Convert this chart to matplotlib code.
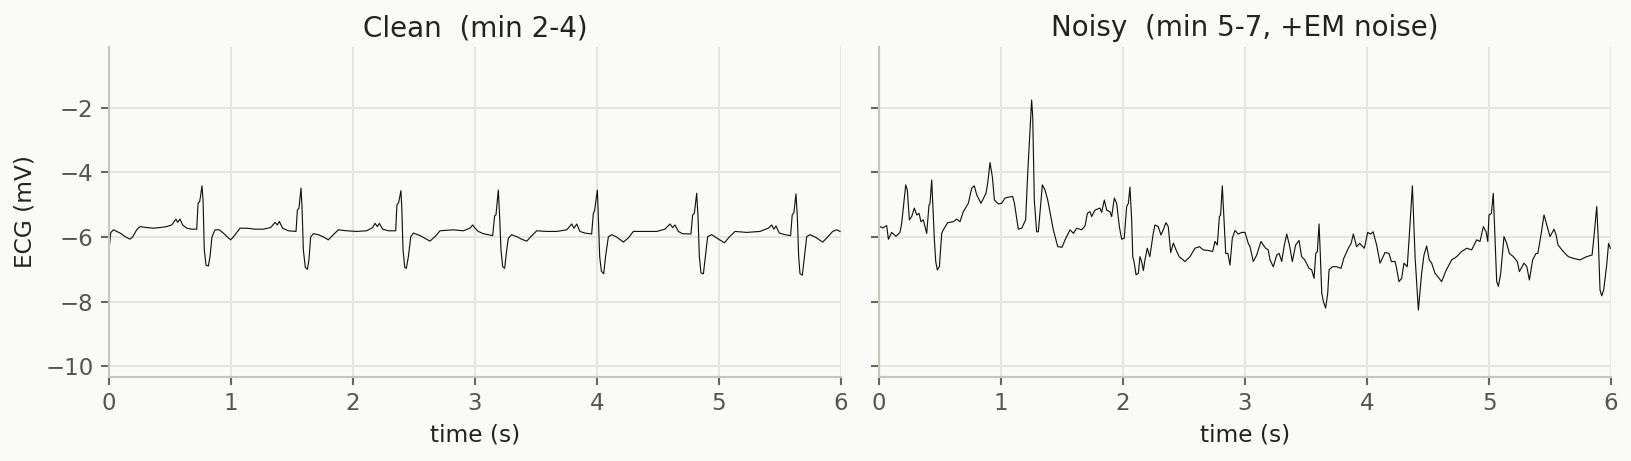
import matplotlib
matplotlib.use('Agg')
import matplotlib.pyplot as plt

# Чистый участок ЭКГ (мин 2-4): время (с) и амплитуда (мВ)
clean_t = [0.0, 0.014, 0.036, 0.063, 0.096, 0.131, 0.172, 0.194, 0.227, 0.254,
           0.309, 0.363, 0.418, 0.473, 0.514, 0.549, 0.563, 0.582, 0.604, 0.637,
           0.678, 0.719, 0.730, 0.743, 0.750, 0.762, 0.771, 0.781, 0.795, 0.814,
           0.828, 0.844, 0.869, 0.904, 0.937, 0.970, 0.997, 1.019, 1.074, 1.128,
           1.197, 1.265, 1.325, 1.361, 1.380, 1.396, 1.423, 1.470, 1.533, 1.544,
           1.557, 1.574, 1.582, 1.593, 1.609, 1.626, 1.639, 1.653, 1.675, 1.716,
           1.757, 1.798, 1.839, 1.880, 1.948, 2.030, 2.112, 2.161, 2.180, 2.200,
           2.216, 2.243, 2.290, 2.350, 2.360, 2.374, 2.393, 2.400, 2.410, 2.424,
           2.437, 2.454, 2.473, 2.495, 2.550, 2.631, 2.672, 2.713, 2.822, 2.904,
           2.959, 2.981, 3.000, 3.027, 3.068, 3.145, 3.161, 3.172, 3.191, 3.202,
           3.213, 3.227, 3.243, 3.260, 3.273, 3.300, 3.341, 3.382, 3.424, 3.456,
           3.506, 3.588, 3.670, 3.752, 3.793, 3.811, 3.834, 3.860, 3.900, 3.956,
           3.970, 3.980, 4.003, 4.010, 4.022, 4.036, 4.055, 4.070, 4.093, 4.120,
           4.160, 4.216, 4.257, 4.298, 4.380, 4.490, 4.557, 4.598, 4.620, 4.639,
           4.667, 4.700, 4.770, 4.784, 4.798, 4.817, 4.828, 4.839, 4.852, 4.872,
           4.888, 4.907, 4.940, 4.980, 5.044, 5.085, 5.131, 5.227, 5.336, 5.404,
           5.432, 5.450, 5.467, 5.494, 5.541, 5.587, 5.600, 5.614, 5.631, 5.642,
           5.653, 5.664, 5.683, 5.700, 5.719, 5.746, 5.787, 5.850, 5.883, 5.932,
           5.965, 5.992]
clean_v = [-6.40, -5.87, -5.78, -5.83, -5.89, -5.99, -6.07, -6.00, -5.78, -5.68,
           -5.71, -5.73, -5.71, -5.68, -5.63, -5.45, -5.55, -5.45, -5.63, -5.73,
           -5.76, -5.76, -4.96, -4.91, -4.75, -4.42, -4.86, -6.40, -6.87, -6.90,
           -6.61, -6.00, -5.78, -5.78, -5.88, -6.00, -6.09, -6.00, -5.73, -5.73,
           -5.76, -5.76, -5.71, -5.55, -5.63, -5.52, -5.73, -5.81, -5.83, -5.17,
           -5.11, -4.49, -5.06, -6.40, -6.94, -7.00, -6.71, -6.00, -5.90, -5.93,
           -6.00, -6.09, -5.93, -5.78, -5.81, -5.83, -5.81, -5.71, -5.58, -5.68,
           -5.58, -5.76, -5.81, -5.81, -5.01, -4.94, -4.57, -5.11, -6.40, -6.94,
           -6.97, -6.61, -6.00, -5.88, -5.96, -6.13, -5.99, -5.81, -5.78, -5.81,
           -5.73, -5.63, -5.73, -5.83, -5.90, -5.96, -5.35, -5.32, -4.55, -5.37,
           -6.40, -6.92, -6.97, -6.40, -6.04, -5.93, -5.99, -6.07, -6.13, -6.00,
           -5.81, -5.83, -5.83, -5.78, -5.60, -5.73, -5.60, -5.83, -5.88, -5.91,
           -5.27, -5.19, -4.55, -5.27, -6.61, -7.06, -7.14, -6.61, -6.00, -5.93,
           -6.00, -6.16, -6.03, -5.83, -5.83, -5.83, -5.76, -5.60, -5.71, -5.63,
           -5.83, -5.90, -5.91, -5.32, -5.27, -4.65, -5.37, -6.61, -7.11, -7.14,
           -6.61, -5.99, -5.93, -6.03, -6.18, -6.00, -5.83, -5.86, -5.83, -5.73,
           -5.63, -5.76, -5.66, -5.88, -5.93, -5.96, -5.32, -5.25, -4.67, -5.37,
           -6.61, -7.14, -7.18, -6.61, -5.99, -5.93, -6.00, -6.16, -6.03, -5.83,
           -5.78, -5.83]

# Зашумлённый участок (мин 5-7, + шум от электродов)
noisy_t = [0.008, 0.030, 0.063, 0.077, 0.104, 0.139, 0.172, 0.186, 0.219, 0.232,
           0.249, 0.268, 0.290, 0.309, 0.328, 0.344, 0.363, 0.391, 0.410, 0.418,
           0.432, 0.437, 0.454, 0.465, 0.478, 0.495, 0.514, 0.527, 0.563, 0.609,
           0.637, 0.664, 0.691, 0.732, 0.760, 0.781, 0.801, 0.836, 0.877, 0.891,
           0.910, 0.929, 0.946, 0.978, 1.005, 1.033, 1.060, 1.096, 1.110, 1.142,
           1.170, 1.202, 1.219, 1.232, 1.251, 1.260, 1.273, 1.292, 1.306, 1.339,
           1.361, 1.383, 1.429, 1.465, 1.500, 1.525, 1.566, 1.594, 1.620, 1.661,
           1.689, 1.708, 1.730, 1.743, 1.770, 1.811, 1.825, 1.847, 1.866, 1.893,
           1.907, 1.929, 1.948, 1.970, 1.989, 2.010, 2.030, 2.044, 2.057, 2.071,
           2.080, 2.090, 2.107, 2.126, 2.139, 2.153, 2.167, 2.180, 2.199, 2.220,
           2.248, 2.262, 2.289, 2.311, 2.330, 2.352, 2.371, 2.391, 2.413, 2.435,
           2.461, 2.508, 2.549, 2.590, 2.626, 2.658, 2.699, 2.735, 2.754, 2.773,
           2.790, 2.800, 2.814, 2.828, 2.842, 2.860, 2.877, 2.896, 2.918, 2.945,
           2.973, 3.000, 3.027, 3.041, 3.068, 3.096, 3.131, 3.150, 3.170, 3.190,
           3.205, 3.232, 3.260, 3.280, 3.301, 3.320, 3.342, 3.364, 3.388, 3.415,
           3.443, 3.464, 3.490, 3.525, 3.547, 3.566, 3.580, 3.593, 3.607, 3.617,
           3.629, 3.643, 3.661, 3.678, 3.689, 3.716, 3.750, 3.787, 3.810, 3.847,
           3.870, 3.888, 3.915, 3.940, 3.978, 4.006, 4.030, 4.050, 4.079, 4.107,
           4.148, 4.180, 4.200, 4.230, 4.240, 4.262, 4.284, 4.303, 4.330, 4.347,
           4.372, 4.394, 4.421, 4.448, 4.467, 4.489, 4.510, 4.530, 4.557, 4.612,
           4.650, 4.694, 4.735, 4.776, 4.817, 4.858, 4.899, 4.926, 4.954, 4.976,
           4.990, 5.000, 5.020, 5.035, 5.049, 5.063, 5.077, 5.096, 5.123, 5.145,
           5.167, 5.200, 5.232, 5.249, 5.287, 5.310, 5.331, 5.358, 5.385, 5.400,
           5.426, 5.451, 5.470, 5.500, 5.533, 5.550, 5.566, 5.609, 5.650, 5.691,
           5.746, 5.800, 5.845, 5.863, 5.883, 5.896, 5.910, 5.924, 5.940, 5.965,
           5.980, 5.995]
noisy_v = [-5.68, -5.72, -5.65, -6.07, -5.86, -5.98, -5.86, -5.58, -4.39, -4.55,
           -5.47, -5.37, -5.11, -5.32, -5.27, -5.53, -5.47, -5.89, -5.01, -4.97,
           -4.24, -4.65, -6.09, -6.76, -7.02, -6.92, -5.89, -5.78, -5.56, -5.53,
           -5.45, -5.53, -5.22, -4.96, -4.49, -4.42, -4.70, -4.96, -4.65, -4.34,
           -3.70, -4.14, -4.86, -4.98, -4.96, -4.80, -4.77, -4.75, -4.96, -5.76,
           -5.73, -5.47, -4.03, -3.10, -1.77, -2.28, -4.86, -5.84, -5.84, -4.39,
           -4.55, -4.86, -5.78, -6.30, -6.32, -6.09, -5.78, -5.89, -5.73, -5.78,
           -5.66, -5.27, -5.22, -5.37, -5.17, -5.11, -5.24, -4.86, -5.17, -5.22,
           -5.37, -4.80, -4.96, -5.68, -6.07, -6.04, -5.06, -4.96, -4.46, -5.47,
           -6.61, -6.76, -7.17, -7.12, -6.61, -6.76, -7.04, -6.71, -6.35, -6.61,
           -5.89, -5.63, -5.68, -5.94, -5.78, -5.56, -5.68, -6.48, -6.19, -6.40,
           -6.61, -6.76, -6.61, -6.35, -6.30, -6.40, -6.42, -6.45, -6.14, -6.25,
           -5.37, -5.32, -4.42, -5.47, -6.51, -6.51, -6.87, -6.04, -5.80, -5.91,
           -5.86, -5.86, -6.20, -6.30, -6.76, -6.56, -6.14, -6.25, -6.35, -6.40,
           -6.71, -6.92, -6.56, -6.51, -6.76, -6.30, -5.91, -6.25, -6.76, -6.25,
           -6.11, -6.61, -6.71, -6.97, -7.02, -7.28, -6.51, -6.45, -5.60, -6.51,
           -7.74, -8.00, -8.20, -7.74, -7.02, -6.92, -6.92, -6.97, -6.66, -6.35,
           -6.20, -5.91, -6.30, -6.20, -6.35, -5.86, -5.91, -5.84, -6.25, -6.81,
           -6.48, -6.51, -6.76, -6.76, -6.92, -7.38, -7.28, -6.81, -6.92, -5.94,
           -4.42, -6.61, -8.26, -7.12, -6.56, -6.28, -6.71, -6.81, -7.12, -7.38,
           -7.02, -6.71, -6.61, -6.45, -6.35, -6.40, -6.09, -6.14, -5.68, -5.84,
           -6.14, -5.32, -5.27, -4.65, -6.00, -7.38, -7.53, -7.12, -5.99, -6.20,
           -6.51, -6.61, -6.76, -7.07, -6.81, -6.92, -7.33, -6.71, -6.51, -6.51,
           -5.94, -5.32, -5.58, -5.99, -5.76, -5.94, -6.25, -6.45, -6.61, -6.66,
           -6.71, -6.61, -6.56, -5.89, -5.06, -6.09, -7.64, -7.82, -7.64, -6.86,
           -6.20, -6.35]

titles = ['Clean  (min 2-4)', 'Noisy  (min 5-7, +EM noise)']
x_ticks = [0, 1, 2, 3, 4, 5, 6]
y_ticks = [-10, -8, -6, -4, -2]

BG = '#fafaf9'
GRID = '#e6e6e1'
SPINE = '#c6c6bf'
TICK_TXT = '#555550'


def plot_ecg() -> None:
    """Два участка ЭКГ рядом, общая ось Y"""
    fig = plt.figure(figsize=(1631 / 150, 461 / 150), dpi=150, facecolor=BG)
    ax1 = fig.add_axes([109 / 1631, 1 - 376.7 / 461, 732 / 1631, 330 / 461])
    ax2 = fig.add_axes([879 / 1631, 1 - 376.7 / 461, 732 / 1631, 330 / 461], sharey=ax1)

    for ax, t, v, title in [(ax1, clean_t, clean_v, titles[0]),
                            (ax2, noisy_t, noisy_v, titles[1])]:
        ax.set_facecolor(BG)
        ax.plot(t, v, color='#111111', lw=0.55)
        ax.set_xlim(0, 6)
        ax.set_ylim(-10.32, -0.12)
        ax.set_xticks(x_ticks)
        ax.set_yticks(y_ticks)
        ax.grid(True, color=GRID, lw=1.0)
        ax.set_axisbelow(True)
        for side in ['top', 'right']:
            ax.spines[side].set_visible(False)
        for side in ['left', 'bottom']:
            ax.spines[side].set_color(SPINE)
            ax.spines[side].set_linewidth(1.0)
        ax.tick_params(colors='#666660', labelcolor=TICK_TXT, labelsize=11, length=4, width=1)
        ax.set_title(title, fontsize=13.3, color='#222222', pad=5)
        ax.set_xlabel('time (s)', fontsize=11.2, color='#222222')

    ax1.set_ylabel('ECG (mV)', fontsize=11.2, color='#222222')
    ax2.tick_params(labelleft=False)

    plt.savefig('out.png', dpi=150, facecolor=BG)
    plt.close()


if __name__ == "__main__":
    plot_ecg()
